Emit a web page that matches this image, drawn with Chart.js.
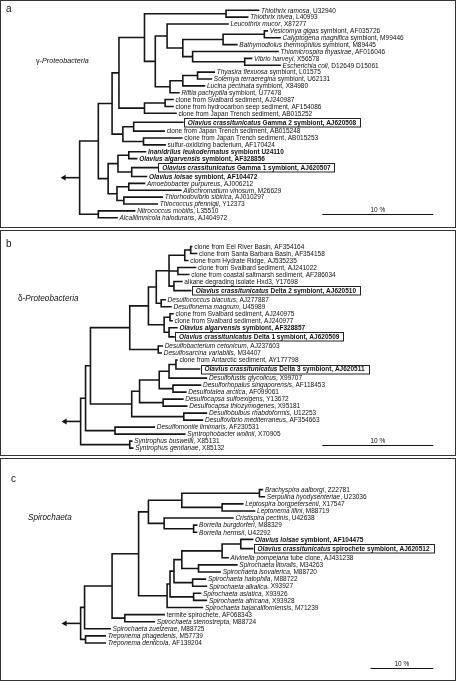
<!DOCTYPE html>
<html>
<head>
<meta charset="utf-8">
<script src="https://cdn.jsdelivr.net/npm/chart.js@4.4.1/dist/chart.umd.min.js"></script>
<style>
  html, body { margin: 0; padding: 0; background: #fff; }
  body { width: 456px; height: 681px; position: relative; overflow: hidden; }
  .panel { position: absolute; left: 0; width: 456px; }
  .panel canvas { position: absolute; left: 0; top: 0; }
  .frame { position: absolute; left: 0; top: 0; width: 456px; height: 100%; box-sizing: border-box; border: 1px solid #333; pointer-events: none; }
</style>
</head>
<body>
<div class="panel" style="top:0;height:228px"><canvas id="chartA" width="456" height="228"></canvas><div class="frame"></div></div>
<div class="panel" style="top:230px;height:226px"><canvas id="chartB" width="456" height="226"></canvas><div class="frame"></div></div>
<div class="panel" style="top:458px;height:223px"><canvas id="chartC" width="456" height="223"></canvas><div class="frame"></div></div>
<script>
// --- gamma-Proteobacteria tree (x = branch depth) ---
const gammaNames = [
  '*Thiothrix ramosa*, U32940', '*Thiothrix nivea*, L40993', '*Leucothrix mucor*, X87277',
  '*Vesicomya gigas* symbiont, AF035726', '*Calyptogena magnifica* symbiont, M99446',
  '*Bathymodiolus thermophilus* symbiont, M89445', '*Thiomicrospira thyasirae*, AF016046',
  '*Vibrio harveyi*, X56578', '*Escherichia coli*, D12649 D15061',
  '*Thyasira flexuosa* symbiont, L01575', '*Solemya terraeregina* symbiont, U62131',
  '*Lucina pectinata* symbiont, X84980', '*Riftia pachyptila* symbiont, U77478',
  'clone from Svalbard sediment, AJ240987', 'clone from hydrocarbon seep sediment, AF154086',
  'clone from Japan Trench sediment, AB015252', '*Olavius crassitunicatus* Gamma 2 symbiont, AJ620508',
  'clone from Japan Trench sediment, AB015248', 'clone from Japan Trench sediment, AB015253',
  'sulfur-oxidizing bacterium, AF170424', '*Inanidrilus leukodermatus* symbiont U24110',
  '*Olavius algarvensis* symbiont, AF328856', '*Olavius crassitunicatus* Gamma 1 symbiont, AJ620507',
  '*Olavius loisae* symbiont, AF104472', '*Amoebobacter purpureus*, AJ006212',
  '*Allochromatium vinosum*, M26629', '*Thiorhodovibrio sibirica*, AJ010297',
  '*Thiococcus pfennigii*, Y12373', '*Nitrococcus mobilis*, L35510', '*Alcalilimnicola halodurans*, AJ404972'
];
const gammaTipX = [259, 248, 228, 268, 281, 237, 279, 252, 281, 214, 211, 204, 178, 172, 172, 175, 182, 163, 181, 164,
  144, 135, 156, 145, 143, 180, 161, 156, 133, 115];
const gammaLeafParent = [5, 5, 7, 10, 10, 9, 11, 12, 12, 15, 15, 14, 13, 17, 17, 16, 19, 19, 20, 20,
  23, 23, 24, 24, 26, 26, 27, 27, 28, 28];
const gammaNodeX = [77, 96, 110, 117, 143, 226, 154, 166, 182, 223, 265, 192, 245, 169, 182, 197, 143, 164, 121, 132,
  142, 106, 116, 127, 130, 115, 127, 122, 96];
const gammaNodeParent = [-1, 0, 1, 2, 3, 4, 4, 6, 7, 8, 9, 8, 11, 6, 13, 14, 3, 16, 2, 18,
  18, 1, 21, 22, 22, 21, 25, 25, 0];
const gammaBold = [16, 20, 21, 22, 23];
const gammaBoxed = [16, 22];

// --- delta-Proteobacteria tree ---
const deltaNames = [
  'clone from Eel River Basin, AF354164', 'clone from Santa Barbara Basin, AF354158',
  'clone from Hydrate Ridge, AJ535235', 'clone from Svalbard sediment, AJ241022',
  'clone from coastal saltmarsh sediment, AF286034', 'alkane degrading isolate Hxd3, Y17698',
  '*Olavius crassitunicatus* Delta 2 symbiont, AJ620510', '*Desulfococcus biacutus*, AJ277887',
  '*Desulfonema magnum*, U45989', 'clone from Svalbard sediment, AJ240975',
  'clone from Svalbard sediment, AJ240977', '*Olavius algarvensis* symbiont, AF328857',
  '*Olavius crassitunicatus* Delta 1 symbiont, AJ620509', '*Desulfobacterium cetonicum*, AJ237603',
  '*Desulfosarcina variabilis*, M34407', 'clone from Antarctic sediment, AY177798',
  '*Olavius crassitunicatus* Delta 3 symbiont, AJ620511', '*Desulfofustis glycolicus*, X99707',
  '*Desulforhopalus singaporensis*, AF118453', '*Desulfotalea arctica*, AF099061',
  '*Desulfocapsa sulfoexigens*, Y13672', '*Desulfocapsa thiozymogenes*, X95181',
  '*Desulfobulbus rhabdoformis*, U12253', '*Desulfovibrio mediterraneus*, AF354663',
  '*Desulfomonile limimaris*, AF230531', '*Syntrophobacter wolinii*, X70905',
  '*Syntrophus buswellii*, X85131', '*Syntrophus gentianae*, X85132'
];
const deltaTipX = [191, 196, 187, 195, 188, 181, 190, 164, 170, 172, 171, 176, 173, 161, 160, 176, 199, 206, 200, 185,
  182, 186, 206, 202, 153, 184, 130, 131];
const deltaLeafParent = [8, 8, 7, 9, 9, 10, 10, 11, 11, 13, 13, 14, 14, 15, 15, 23, 23, 19, 20, 20,
  21, 21, 22, 22, 24, 24, 25, 25];
const deltaNodeX = [78, 83, 88, 128, 147, 155, 168, 184, 190, 177, 173, 160, 163, 169, 168, 157, 130, 138, 158, 168,
  172, 162, 183, 175, 113, 128];
const deltaNodeParent = [-1, 0, 1, 2, 3, 4, 5, 6, 7, 6, 6, 5, 4, 12, 12, 3, 2, 16, 17, 18,
  18, 17, 16, 19, 1, 0];
const deltaBold = [6, 11, 12, 16];
const deltaBoxed = [6, 12, 16];

// --- Spirochaeta tree ---
const spiroNames = [
  '*Brachyspira aalborgi*, Z22781', '*Serpulina hyodysenteriae*, U23036',
  '*Leptospira borgpetersenii*, X17547', '*Leptonema illini*, M88719', '*Cristispira pectinis*, U42638',
  '*Borrelia burgdorferi*, M88329', '*Borrelia hermsii*, U42292', '*Olavius loisae* symbiont, AF104475',
  '*Olavius crassitunicatus* spirochete symbiont, AJ620512', '*Alvinella pompejana* tube clone, AJ431238',
  '*Spirochaeta litoralis*, M34263', '*Spirochaeta isovalerica*, M88720', '*Spirochaeta halophila*, M88722',
  '*Spirochaeta alkalica*, X93927', '*Spirochaeta asiatica*, X93926', '*Spirochaeta africana*, X93928',
  '*Spirochaeta bajacaliforniensis*, M71239', 'termite spirochete, AF068343',
  '*Spirochaeta stenostrepta*, M88724', '*Spirochaeta zuelzerae*, M88725',
  '*Treponema phagedenis*, M57739', '*Treponema denticola*, AF139204'
];
const spiroTipX = [263, 265, 243, 255, 233, 196, 196, 253, 253, 228, 237, 220, 205, 206, 200, 206, 202, 163, 153, 108,
  103, 103];
const spiroLeafParent = [6, 6, 7, 7, 8, 9, 9, 18, 18, 14, 15, 15, 16, 16, 17, 17, 10, 19, 19, 1,
  20, 20];
const spiroNodeX = [78, 82, 110, 137, 147, 181, 260, 222, 163, 193, 166, 169, 173, 181, 222, 198, 192, 193, 241, 123,
  83];
const spiroNodeParent = [-1, 0, 1, 2, 3, 4, 5, 5, 4, 8, 3, 10, 11, 12, 13, 13, 12, 11, 14, 2,
  0];
const spiroBold = [7, 8];
const spiroBoxed = [8];

// scale bars: start and length of 10 % in depth units
const barStart = [324, 324, 373];
const barUnits = [113, 113, 64];

const FONT = "'Liberation Sans', Arial, Helvetica, sans-serif";
const LINE = '#151515';
const BOX_GAP = 0.3;   // extra row space above and below a boxed label

// row of each leaf, boxed labels get a little more room
function leafRows(n, boxed) {
  const rows = [];
  let r = 0;
  for (let i = 0; i < n; i++) {
    if (boxed.includes(i) && i > 0) r += BOX_GAP;
    rows.push(r);
    if (boxed.includes(i)) r += BOX_GAP;
    r += 1;
  }
  return rows;
}

// mid-point layout: every inner node sits halfway between its outer children
function layoutTree(nodeX, nodeParent, leafParent, leafY) {
  const kids = nodeX.map(() => []);
  leafParent.forEach((p, i) => kids[p].push({ leaf: true, i }));
  nodeParent.forEach((p, k) => { if (p >= 0) kids[p].push({ leaf: false, i: k }); });
  const nodeY = [], span = [];
  const solve = k => {
    if (nodeY[k] !== undefined) return nodeY[k];
    const ys = kids[k].map(c => c.leaf ? leafY[c.i] : solve(c.i));
    span[k] = [Math.min(...ys), Math.max(...ys)];
    nodeY[k] = (span[k][0] + span[k][1]) / 2;
    return nodeY[k];
  };
  nodeX.forEach((_, k) => solve(k));
  return { nodeY, span };
}

function treeSegments(nodeX, nodeParent, tipX, leafParent, leafY) {
  const { nodeY, span } = layoutTree(nodeX, nodeParent, leafParent, leafY);
  const pts = [];
  const seg = (x0, y0, x1, y1) => pts.push({ x: x0, y: y0 }, { x: x1, y: y1 }, { x: NaN, y: NaN });
  tipX.forEach((t, i) => seg(nodeX[leafParent[i]], leafY[i], t, leafY[i]));
  nodeX.forEach((x, k) => {
    seg(x, span[k][0], x, span[k][1]);
    if (nodeParent[k] >= 0) seg(nodeX[nodeParent[k]], nodeY[k], x, nodeY[k]);
  });
  const root = nodeParent.indexOf(-1);
  return { pts, rootX: nodeX[root], rootY: nodeY[root] };
}

function richWidth(ctx, text, size, bold) {
  let w = 0;
  text.split('*').forEach((part, j) => {
    ctx.font = (j % 2 ? 'italic ' : '') + (bold ? 'bold ' : '') + size + 'px ' + FONT;
    w += ctx.measureText(part).width;
  });
  return w;
}

function drawRich(ctx, text, x, y, size, bold) {
  let cx = x;
  text.split('*').forEach((part, j) => {
    if (!part) return;
    ctx.font = (j % 2 ? 'italic ' : '') + (bold ? 'bold ' : '') + size + 'px ' + FONT;
    ctx.fillText(part, cx, y);
    cx += ctx.measureText(part).width;
  });
}

function makeTreeChart(canvasId, p) {
  const leafY = leafRows(p.names.length, p.boxed);
  const tree = treeSegments(p.nodeX, p.nodeParent, p.tipX, p.leafParent, leafY);
  const H = document.getElementById(canvasId).height;
  const lastRow = leafY[leafY.length - 1];
  const pitch = (p.lastRowPx - p.firstRowPx) / lastRow;
  const arrowLen = 16;

  const labels = {
    id: 'labels' + canvasId,
    afterDatasetsDraw(chart) {
      const { ctx, scales: { x, y }, chartArea } = chart;
      ctx.save();
      ctx.fillStyle = '#111';
      ctx.strokeStyle = '#222';
      ctx.textBaseline = 'middle';
      p.names.forEach((name, i) => {
        const bold = p.bold.includes(i), boxed = p.boxed.includes(i);
        const px = x.getPixelForValue(p.tipX[i]);
        const py = y.getPixelForValue(leafY[i]);
        if (boxed) {
          const w = richWidth(ctx, name, 6.5, true);
          ctx.lineWidth = 1;
          ctx.strokeRect(Math.round(px + 1) + 0.5, Math.round(py - 4.5) + 0.5, Math.round(w + 8), 8.5);
          drawRich(ctx, name, px + 5, py + 0.5, 6.5, true);
        } else {
          drawRich(ctx, name, px + 2.5, py + 0.5, 6.5, bold);
        }
      });
      // panel letter and group name
      ctx.textBaseline = 'alphabetic';
      ctx.font = '10px ' + FONT;
      ctx.fillText(p.letter, p.letterPos[0], p.letterPos[1]);
      drawRich(ctx, p.title, p.titlePos[0], p.titlePos[1], p.titleSize, false);
      // scale bar, 10 % of the branch-length axis
      const bx0 = x.getPixelForValue(p.barStart), bx1 = x.getPixelForValue(p.barStart + p.barUnits);
      const by = Math.round(chartArea.bottom - p.barBottom) + 0.5;
      ctx.lineWidth = 1;
      ctx.strokeStyle = '#111';
      ctx.beginPath(); ctx.moveTo(bx0, by); ctx.lineTo(bx1, by); ctx.stroke();
      ctx.font = '6.5px ' + FONT;
      ctx.textAlign = 'center';
      ctx.fillText('10 %', (bx0 + bx1) / 2, by - 3);
      ctx.restore();
    }
  };

  return new Chart(document.getElementById(canvasId), {
    type: 'scatter',
    data: {
      datasets: [
        {
          data: tree.pts, showLine: true, spanGaps: false, borderColor: LINE, borderWidth: 1.6,
          borderCapStyle: 'square', pointRadius: 0, fill: false
        },
        {
          data: [{ x: tree.rootX - arrowLen, y: tree.rootY }, { x: tree.rootX, y: tree.rootY }],
          showLine: true, borderColor: LINE, borderWidth: 1.6, pointRadius: 0
        },
        {
          data: [{ x: tree.rootX - arrowLen, y: tree.rootY }],
          pointStyle: 'triangle', pointRotation: -90, pointRadius: 3.4,
          backgroundColor: '#111', borderColor: '#111', borderWidth: 0
        }
      ]
    },
    options: {
      responsive: false,
      animation: false,
      events: [],
      layout: { padding: 0 },
      plugins: { legend: { display: false }, tooltip: { enabled: false } },
      scales: {
        x: { type: 'linear', min: 0, max: 456, display: false },
        y: { type: 'linear', reverse: true, display: false,
             min: -p.firstRowPx / pitch, max: (H - p.firstRowPx) / pitch }
      }
    },
    plugins: [labels]
  });
}

makeTreeChart('chartA', {
  names: gammaNames, tipX: gammaTipX, leafParent: gammaLeafParent,
  nodeX: gammaNodeX, nodeParent: gammaNodeParent, bold: gammaBold, boxed: gammaBoxed,
  barStart: barStart[0], barUnits: barUnits[0], barBottom: 10,
  letter: 'a', letterPos: [6, 12], title: 'γ-*Proteobacteria*', titlePos: [36, 63], titleSize: 7.2,
  firstRowPx: 6.5, lastRowPx: 221.5
});
makeTreeChart('chartB', {
  names: deltaNames, tipX: deltaTipX, leafParent: deltaLeafParent,
  nodeX: deltaNodeX, nodeParent: deltaNodeParent, bold: deltaBold, boxed: deltaBoxed,
  barStart: barStart[1], barUnits: barUnits[1], barBottom: 7.5,
  letter: 'b', letterPos: [6, 16.5], title: 'δ-*Proteobacteria*', titlePos: [18, 71], titleSize: 8.2,
  firstRowPx: 13, lastRowPx: 222
});
makeTreeChart('chartC', {
  names: spiroNames, tipX: spiroTipX, leafParent: spiroLeafParent,
  nodeX: spiroNodeX, nodeParent: spiroNodeParent, bold: spiroBold, boxed: spiroBoxed,
  barStart: barStart[2], barUnits: barUnits[2], barBottom: 9.5,
  letter: 'c', letterPos: [11, 24], title: '*Spirochaeta*', titlePos: [28, 61.5], titleSize: 8.2,
  firstRowPx: 28.7, lastRowPx: 187.7
});
</script>
</body>
</html>
